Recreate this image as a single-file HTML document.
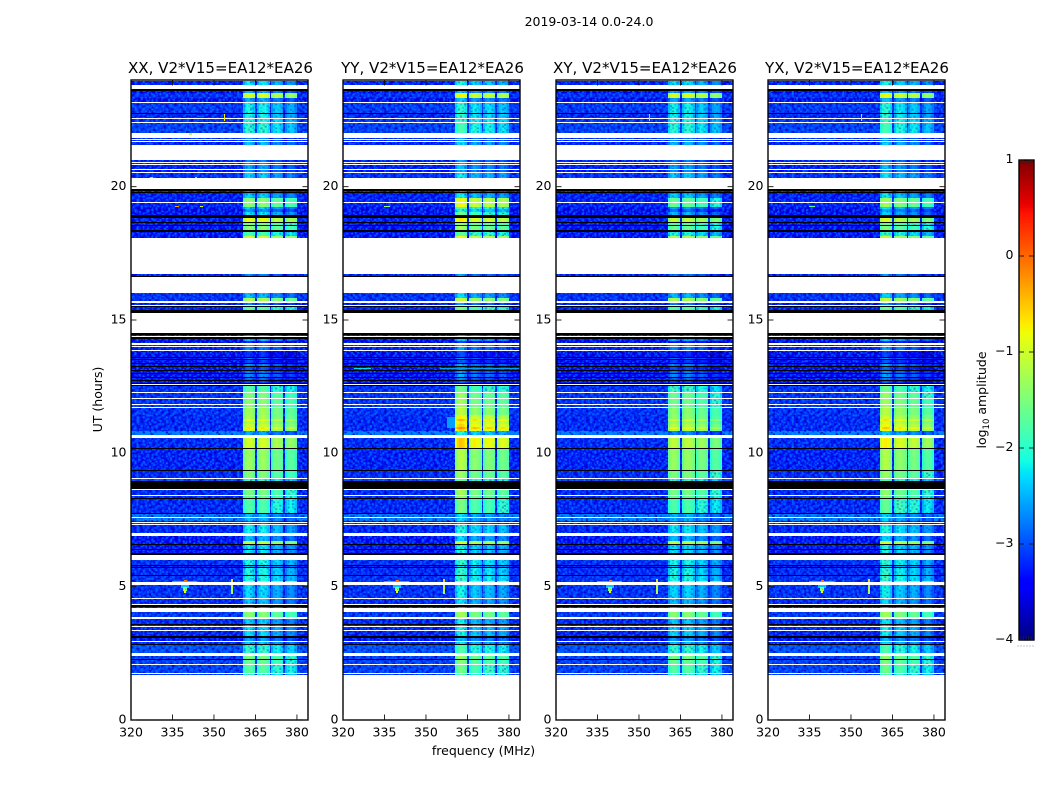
<!DOCTYPE html>
<html>
<head>
<meta charset="utf-8">
<title>2019-03-14 amplitude waterfall</title>
<style>
html,body{margin:0;padding:0;background:#fff;}
svg{display:block;}
text{font-family:"DejaVu Sans","Liberation Sans",sans-serif;fill:#000;}
</style>
</head>
<body>
<svg id="chart" width="1050" height="800" viewBox="0 0 1050 800" xmlns="http://www.w3.org/2000/svg">
  <defs id="defs"></defs>
  <rect x="0" y="0" width="1050" height="800" fill="#fff"></rect>
  <text x="589" y="26" font-size="12.5" text-anchor="middle">2019-03-14 0.0-24.0</text>
  <g id="panels"></g>
  <text x="220.5" y="73" font-size="15.05" text-anchor="middle">XX, V2*V15=EA12*EA26</text>
  <text x="432.5" y="73" font-size="15.05" text-anchor="middle">YY, V2*V15=EA12*EA26</text>
  <text x="645" y="73" font-size="15.05" text-anchor="middle">XY, V2*V15=EA12*EA26</text>
  <text x="857" y="73" font-size="15.05" text-anchor="middle">YX, V2*V15=EA12*EA26</text>
  <text x="483.5" y="755" font-size="12.5" text-anchor="middle">frequency (MHz)</text>
  <text transform="translate(102,399.5) rotate(-90)" font-size="12.5" text-anchor="middle">UT (hours)</text>
  <text transform="translate(986,400) rotate(-90)" font-size="12.5" text-anchor="middle">log<tspan font-size="8.5" dy="3">10</tspan><tspan dy="-3"> amplitude</tspan></text>
  <g id="colorbar"></g>
</svg>
<script>
// ---- Axis tick values ----
const xTicks = [320, 335, 350, 365, 380];
const yTicks = [0, 5, 10, 15, 20];
const cbTicks = [-4, -3, -2, -1, 0, 1];

// ---- Domains ----
const freqDomain = [320, 384];
const hourDomain = [0, 24];
const ampDomain = [-4, 1];

// ---- Spectral windows (MHz) ----
const windowLow = [360.65, 365.6, 370.7, 375.75];
const windowHigh = [364.9, 370.1, 375.1, 380.1];
// level offset across each window, low to high frequency
const windowProfile = [-0.25, -0.02, 0.08, 0.08, 0.02, -0.06, -0.2];

// ---- Flag levels ----
const W = null;   // flagged: blank
const K = -99;    // zero amplitude: black

// ---- Time bands: [hour top, hour bottom, background log10 amp, window log10 amp] ----
const bands = [
  [23.96,23.82,-3.3,-2.3],[23.82,23.65,W,W],[23.65,23.58,K,K],[23.58,23.53,-3.4,-2.6],
  [23.53,23.34,-3.2,-1.0],[23.34,23.31,K,K],[23.31,23.19,-3.5,-2.6],[23.19,23.15,W,W],
  [23.15,22.75,-3.15,-2.2],[22.75,22.73,K,K],[22.73,22.56,-3.25,-2.2],[22.56,22.53,W,W],
  [22.53,22.44,-3.2,-2.1],[22.44,22.40,W,W],[22.40,22.00,-3.1,-2.05],[22.00,21.81,W,W],
  [21.81,21.78,-3.2,-2.8],[21.78,21.75,W,W],[21.75,21.71,-3.2,-2.8],[21.71,21.68,W,W],
  [21.68,21.56,-3.3,-2.5],[21.56,21.00,W,W],[21.00,20.94,-3.3,-2.8],[20.94,20.90,W,W],
  [20.90,20.85,-3.3,-2.8],[20.85,20.81,W,W],[20.81,20.65,-3.3,-2.6],[20.65,20.61,W,W],
  [20.61,20.54,-3.35,-2.7],[20.54,20.50,W,W],[20.50,20.31,-3.2,-2.4],[20.31,19.90,W,W],
  [19.90,19.85,K,K],[19.85,19.81,-3.4,-2.9],[19.81,19.77,K,K],[19.77,19.73,-3.5,-2.6],
  [19.73,19.56,-3.3,-2.4],[19.56,19.41,-3.3,-1.5],[19.41,19.39,W,W],[19.39,19.25,-3.3,-1.5],
  [19.25,19.15,-3.45,-2.4],[19.15,19.05,-3.6,-2.7],[19.05,18.94,-3.4,-2.3],[18.94,18.91,K,K],
  [18.91,18.89,W,W],[18.89,18.84,K,K],[18.84,18.69,-3.3,-0.95],[18.69,18.65,K,K],
  [18.65,18.56,-3.5,-1.6],[18.56,18.53,K,K],[18.53,18.38,-3.4,-1.5],[18.38,18.31,K,K],
  [18.31,18.16,-3.35,-1.9],[18.16,18.06,-3.5,-1.1],[18.06,16.73,W,W],
  [16.73,16.66,-3.3,-2.8],[16.66,16.60,K,K],[16.60,16.55,W,W],[16.55,16.53,K,K],[16.53,16.02,W,W],
  [16.02,15.81,-3.2,-2.5],[15.81,15.70,-3.2,-1.3],[15.70,15.63,W,W],[15.63,15.57,-3.3,-2.8],
  [15.57,15.53,W,W],[15.53,15.48,K,K],[15.48,15.38,-3.3,-1.8],[15.38,15.27,K,K],[15.27,14.52,W,W],
  [14.52,14.45,K,K],[14.45,14.40,-3.4,-2.5],[14.40,14.36,W,W],[14.36,14.29,K,K],[14.29,14.21,-3.4,-2.2],
  [14.21,14.13,-3.7,-3.0],[14.13,14.07,W,W],[14.07,14.03,-3.3,-2.3],[14.03,13.98,W,W],[13.98,13.88,-3.3,-2.4],
  [13.88,13.83,W,W],[13.83,13.63,-3.5,-2.9],[13.63,13.59,K,K],[13.59,13.52,-3.4,-2.5],[13.52,13.49,K,K],
  [13.49,13.40,-3.45,-2.8],[13.40,13.36,K,K],[13.36,13.27,-3.45,-2.4],[13.27,13.23,K,K],[13.23,13.13,-3.45,-2.7],
  [13.13,13.09,K,K],[13.09,13.00,-3.45,-2.5],[13.00,12.96,K,K],[12.96,12.87,-3.45,-2.4],[12.87,12.83,K,K],
  [12.83,12.74,-3.45,-2.6],[12.74,12.70,K,K],[12.70,12.63,-3.5,-2.8],[12.63,12.60,K,K],[12.60,12.56,W,W],
  [12.56,12.54,K,K],[12.54,12.30,-3.2,-1.8],[12.30,12.26,W,W],[12.26,12.09,-3.2,-1.55],[12.09,12.05,W,W],
  [12.05,11.85,-3.2,-1.5],[11.85,11.80,W,W],[11.80,11.75,-3.15,-1.5],[11.75,11.70,W,W],[11.70,11.44,-3.2,-1.35],
  [11.44,11.30,-3.25,-1.3],[11.30,11.20,-3.25,-0.95],[11.20,11.10,-3.25,-1.25],[11.10,11.00,-3.25,-1.1],[11.00,10.93,-3.25,-0.8],[10.93,10.85,-3.25,-1.1],
  [10.85,10.83,K,K],[10.83,10.70,-2.75,-2.6],[10.70,10.58,W,W],[10.58,10.19,-3.25,-1.05],
  [10.19,10.16,K,K],[10.16,9.38,-3.3,-1.4],[9.38,9.34,K,K],[9.34,9.08,-3.25,-1.55],[9.08,9.03,W,W],
  [9.03,8.95,-3.0,-2.0],[8.95,8.65,K,K],[8.65,8.61,W,W],[8.61,8.43,-3.25,-1.6],[8.43,8.39,W,W],
  [8.39,8.31,-3.25,-1.7],[8.31,8.29,K,K],[8.29,7.77,-3.25,-1.85],[7.77,7.73,K,K],[7.73,7.63,-2.75,-2.5],
  [7.63,7.59,W,W],[7.59,7.46,-2.7,-2.5],[7.46,7.43,-3.5,-3.0],[7.43,7.38,W,W],[7.38,7.35,-3.2,-3.0],
  [7.35,7.30,W,W],[7.30,7.02,-3.25,-2.25],[7.02,6.91,W,W],[6.91,6.73,-3.45,-2.5],[6.73,6.60,-3.4,-1.15],
  [6.60,6.56,K,K],[6.56,6.41,-3.4,-2.3],[6.41,6.38,K,K],[6.38,6.26,-3.4,-2.3],[6.26,6.19,K,K],
  [6.19,6.00,W,W],[6.00,5.81,-3.2,-2.15],[5.81,5.77,K,K],[5.77,5.72,-3.4,-2.5],[5.72,5.70,K,K],[5.70,5.44,-3.25,-2.15],[5.44,5.40,K,K],
  [5.40,5.22,-3.2,-2.1],[5.22,5.16,-3.2,-1.05],[5.16,5.05,W,W],[5.05,4.56,-3.2,-2.2],[4.56,4.52,W,W],
  [4.52,4.35,-3.25,-2.3],[4.35,4.31,W,W],[4.31,4.24,K,K],[4.24,4.21,-3.3,-2.6],[4.21,4.06,W,W],
  [4.06,3.87,-3.15,-1.35],[3.87,3.78,W,W],[3.78,3.60,-3.25,-2.25],[3.60,3.56,K,K],[3.56,3.53,-3.3,-2.6],
  [3.53,3.49,W,W],[3.49,3.38,-3.25,-2.2],[3.38,3.33,W,W],[3.33,3.16,-3.3,-2.2],[3.16,3.06,K,K],
  [3.06,2.97,-3.35,-2.5],[2.97,2.94,W,W],[2.94,2.85,-3.25,-2.3],[2.85,2.81,K,K],[2.81,2.52,-3.0,-2.0],
  [2.52,2.40,W,W],[2.40,2.29,-3.1,-1.6],[2.29,2.25,K,K],[2.25,2.09,-3.1,-1.7],[2.09,2.05,W,W],
  [2.05,1.77,-3.1,-1.8],[1.77,1.73,W,W],[1.73,1.68,-3.2,-2.0]
];

// ---- Window gain per panel (XX, YY, XY, YX), per spectral window ----
const gainXX = [0.05, 0.05, -0.2, -0.35];
const gainYY = [0.2, -0.05, -0.1, -0.2];
const gainXY = [0.0, 0.0, -0.2, -0.4];
const gainYX = [0.15, -0.05, -0.2, -0.4];

// ---- Time-dependent gain: [panel or -1 for all, hour low, hour high, delta] ----
const regionGain = [
  [-1, 12.63, 14.52, -0.35], [-1, 2.81, 5.05, -0.15],
  [1, 10.0, 11.5, 0.3], [1, 18.9, 19.6, 0.45], [1, 7.7, 9.0, 0.1],
  [2, 10.0, 12.6, -0.12], [2, 18.0, 19.6, -0.2],
  [3, 10.0, 11.5, 0.1], [3, 18.0, 19.0, -0.2]
];

// ---- Localised interference: [panel or -1 for all, MHz low, MHz high, hour low, hour high, level] ----
const rfi = [
  [-1, 338.0, 341.0, 4.95, 5.05, -2.4], [-1, 338.7, 340.4, 4.85, 4.97, -1.6], [-1, 339.3, 339.9, 4.78, 4.90, -0.8],
  [-1, 339.4, 339.9, 4.86, 4.92, -0.3], [-1, 339.2, 340.1, 5.16, 5.24, -0.1], [-1, 335.0, 344.0, 5.16, 5.21, -2.4],
  [-1, 356.0, 356.9, 4.72, 5.05, -1.2], [-1, 356.0, 356.9, 5.16, 5.30, -0.6], [0, 353.5, 354.0, 22.45, 22.72, -0.7],
  [2, 353.5, 354.0, 22.45, 22.72, -1.6], [3, 353.5, 354.0, 22.45, 22.72, -1.6], [0, 336.0, 337.2, 19.22, 19.27, -0.3],
  [0, 345.0, 346.0, 19.22, 19.27, -0.9], [3, 335.0, 337.0, 19.22, 19.27, -1.7], [1, 335.0, 337.0, 19.22, 19.27, -1.4],
  [1, 324.0, 330.0, 13.16, 13.20, -2.3], [1, 355.0, 384.0, 13.16, 13.20, -2.6], [1, 357.5, 360.4, 10.95, 11.35, -2.6],
  [0, 341.0, 342.0, 21.95, 22.03, -1.2], [0, 327.0, 328.0, 20.33, 20.38, -1.9], [0, 343.0, 344.0, 20.33, 20.38, -1.7]
];

// ---- Fine-grain residual tile: . none, a/c brighter, b darker ----
const grainTile = [
  "a.b..c.a..b.a...c.b.a..b",
  ".c..a...b.a..c.b...a.c..",
  "b..a.b.c...a...b.a...b.a",
  "..c...a.b.c..b..c.a.c...",
  "a..b.c...a.b...a..b...ca",
  ".b.a...c...c.a.b.c..a...",
  "..a.b.a..b...c...a.b..c.",
  "c...c..a..b.a..b.c...a.b",
  ".a.b...c.a...c...a.b....",
  "b..c.a..b..c.b.a...c.a.c",
  "..a...b.c.a...c..b.a...b",
  "a.c.b...a..b.a..c...b.c.",
  ".b...a.c..c...b.a.c...a.",
  "c..a.b...a.b.c...b..a..b",
  ".a...c.b.c...a.c..a.b.c.",
  "b.c.a...b..a..b.a...c..a"
];

// ---- Jet colour map knots ----
const jetRedX = [0, 0.35, 0.66, 0.89, 1];
const jetRedY = [0, 0, 1, 1, 0.5];
const jetGreenX = [0, 0.125, 0.375, 0.64, 0.91, 1];
const jetGreenY = [0, 0, 1, 1, 0, 0];
const jetBlueX = [0, 0.11, 0.34, 0.65, 1];
const jetBlueY = [0.5, 1, 1, 0, 0];

// ---- Layout ----
const PANEL_COUNT = 4;
const AX_LEFT = 131, AX_STEP = 212.33, AX_W = 177;
const AX_TOP = 80, AX_BOTTOM = 720;
const CB_L = 1019, CB_R = 1034, CB_T = 160, CB_B = 640;
const SVGNS = "http://www.w3.org/2000/svg";
const panelGains = [gainXX, gainYY, gainXY, gainYX];

function mk(tag, attrs) {
  const el = document.createElementNS(SVGNS, tag);
  for (const k in attrs) el.setAttribute(k, attrs[k]);
  return el;
}
function panelLeft(panel) {
  return Math.round(AX_LEFT + panel * AX_STEP);
}
function xScale(panel, f) {
  return panelLeft(panel) + (f - freqDomain[0]) / (freqDomain[1] - freqDomain[0]) * AX_W;
}
function yScale(h) {
  return AX_BOTTOM - (h - hourDomain[0]) / (hourDomain[1] - hourDomain[0]) * (AX_BOTTOM - AX_TOP);
}
function cbScale(v) {
  return CB_B - (v - ampDomain[0]) / (ampDomain[1] - ampDomain[0]) * (CB_B - CB_T);
}
function interp(xs, ys, t) {
  for (let i = 1; i < xs.length; i++) {
    if (t <= xs[i]) return ys[i - 1] + (ys[i] - ys[i - 1]) * (t - xs[i - 1]) / (xs[i] - xs[i - 1]);
  }
  return ys[ys.length - 1];
}
function levelColor(v) {
  if (v === null) return "#ffffff";
  if (v <= -99) return "#000000";
  const t = Math.min(1, Math.max(0, (v - ampDomain[0]) / (ampDomain[1] - ampDomain[0])));
  const r = Math.round(255 * interp(jetRedX, jetRedY, t));
  const g = Math.round(255 * interp(jetGreenX, jetGreenY, t));
  const b = Math.round(255 * interp(jetBlueX, jetBlueY, t));
  return "rgb(" + r + "," + g + "," + b + ")";
}
function gainAt(panel, hi, lo) {
  let d = 0;
  const mid = (hi + lo) / 2;
  for (const r of regionGain) {
    if ((r[0] === panel || r[0] === -1) && mid >= r[1] && mid <= r[2]) d += r[3];
  }
  return d;
}

// grain patterns: two tile sizes overlaid so the texture does not visibly repeat
const defs = document.getElementById("defs");
function addGrain(id, cw, ch) {
  const pattern = mk("pattern", {id: id, patternUnits: "userSpaceOnUse", width: grainTile[0].length * cw, height: grainTile.length * ch});
  grainTile.forEach(function (row, j) {
    row.split("").forEach(function (c, i) {
      if (c === ".") return;
      const fill = c === "a" ? "#0068ff" : c === "c" ? "#0098ff" : "#0000b0";
      const op = c === "c" ? 0.55 : 0.8;
      pattern.appendChild(mk("rect", {x: i * cw, y: j * ch, width: cw, height: ch, fill: fill, "fill-opacity": op}));
    });
  });
  defs.appendChild(pattern);
}
addGrain("grain", 2.1, 1.7);
addGrain("grain2", 1.55, 2.3);

function crispRect(parent, x0, x1, y0, y1, attrs) {
  const ya = Math.round(y0), yb = Math.max(ya + 1, Math.round(y1));
  const xa = Math.round(x0), xb = Math.max(xa + 1, Math.round(x1));
  const r = mk("rect", Object.assign({x: xa, y: ya, width: xb - xa, height: yb - ya, "shape-rendering": "crispEdges"}, attrs));
  parent.appendChild(r);
  return r;
}

const panelsG = document.getElementById("panels");
for (let p = 0; p < PANEL_COUNT; p++) {
  const g = mk("g", {});
  
  
  panelsG.appendChild(g);

  const xL = xScale(p, freqDomain[0]), xR = xScale(p, freqDomain[1]);

  bands.forEach(function (b) {
    const y0 = yScale(b[0]), y1 = yScale(b[1]);
    const bg = b[2], win = b[3];
    const base = crispRect(g, xL, xR, y0, y1, {fill: levelColor(bg)});
    
    
    if (bg === null || bg <= -99) return;
    crispRect(g, xL, xR, y0, y1, {fill: "url(#grain)"});
    crispRect(g, xL, xR, y0, y1, {fill: "url(#grain2)", opacity: 0.6});
    for (let k = 0; k < windowLow.length; k++) {
      const v = win + panelGains[p][k] + gainAt(p, b[0], b[1]);
      const span = (windowHigh[k] - windowLow[k]) / windowProfile.length;
      for (let s = 0; s < windowProfile.length; s++) {
        const f0 = windowLow[k] + s * span;
        const cell = crispRect(g, xScale(p, f0), xScale(p, f0 + span), y0, y1, {fill: levelColor(v + windowProfile[s])});
        
        
      }
      if (v < -1.9) {
        crispRect(g, xScale(p, windowLow[k]), xScale(p, windowHigh[k]), y0, y1, {fill: "url(#grain)", opacity: 0.45});
      }
    }
  });

  rfi.forEach(function (s) {
    if (s[0] !== -1 && s[0] !== p) return;
    const m = crispRect(g, xScale(p, s[1]), xScale(p, s[2]), yScale(s[4]), yScale(s[3]), {fill: levelColor(s[5])});
    
    
  });

  // frame
  const frame = mk("rect", {x: xL, y: AX_TOP, width: xR - xL, height: AX_BOTTOM - AX_TOP, fill: "none", stroke: "#000", "stroke-width": 1.39});
  
  
  g.appendChild(frame);

  // x ticks
  xTicks.forEach(function (t) {
    const x = xScale(p, t);
    const tb = mk("line", {x1: x, x2: x, y1: AX_BOTTOM, y2: AX_BOTTOM - 5.5, stroke: "#111", "stroke-width": 0.9});
    
    
    g.appendChild(tb);
    const tt = mk("line", {x1: x, x2: x, y1: AX_TOP, y2: AX_TOP + 5.5, stroke: "#111", "stroke-width": 0.9});
    
    
    g.appendChild(tt);
    const lab = mk("text", {x: x, y: 736.5, "font-size": 12.5, "text-anchor": "middle"});
    
    
    lab.textContent = String(t);
    g.appendChild(lab);
  });

  // y ticks
  yTicks.forEach(function (t) {
    const y = yScale(t);
    const tl = mk("line", {x1: xL, x2: xL + 5.5, y1: y, y2: y, stroke: "#111", "stroke-width": 0.9});
    
    
    g.appendChild(tl);
    const tr = mk("line", {x1: xR, x2: xR - 5.5, y1: y, y2: y, stroke: "#111", "stroke-width": 0.9});
    
    
    g.appendChild(tr);
    const lab = mk("text", {x: xL - 4.5, y: y + 3.3, "font-size": 12.5, "text-anchor": "end"});
    
    
    lab.textContent = String(t);
    g.appendChild(lab);
  });
}

// colour bar
const cbG = document.getElementById("colorbar");
for (let i = 0; i < 256; i++) {
  const v0 = ampDomain[0] + (ampDomain[1] - ampDomain[0]) * i / 256;
  const v1 = ampDomain[0] + (ampDomain[1] - ampDomain[0]) * (i + 1) / 256;
  const seg = mk("rect", {x: CB_L, y: cbScale(v1), width: CB_R - CB_L, height: cbScale(v0) - cbScale(v1) + 0.6, fill: levelColor((v0 + v1) / 2)});
  
  
  cbG.appendChild(seg);
}
const cbFrame = mk("rect", {x: CB_L, y: CB_T, width: CB_R - CB_L, height: CB_B - CB_T, fill: "none", stroke: "#000", "stroke-width": 1.39});


cbG.appendChild(cbFrame);
cbTicks.forEach(function (t) {
  const y = cbScale(t);
  const l = mk("line", {x1: CB_L, x2: CB_L + 5, y1: y, y2: y, stroke: "#111", "stroke-width": 0.9});
  
  
  cbG.appendChild(l);
  const r = mk("line", {x1: CB_R, x2: CB_R - 5, y1: y, y2: y, stroke: "#111", "stroke-width": 0.9});
  
  
  cbG.appendChild(r);
  const lab = mk("text", {x: 1013.5, y: y + 3.2, "font-size": 12.5, "text-anchor": "end"});
  
  
  lab.textContent = (t < 0 ? "\u2212" + Math.abs(t) : String(t));
  cbG.appendChild(lab);
});
[CB_T, CB_B].forEach(function (edge, idx) {
  const dir = idx === 0 ? 1 : -1;
  for (let x = CB_L + 2; x < CB_R - 1; x += 2.5) {
    const m = mk("line", {x1: x, x2: x, y1: edge, y2: edge + dir * 4, stroke: "#222", "stroke-width": 0.7});
    
    
    cbG.appendChild(m);
  }
});
const dots = mk("line", {x1: 1017.5, x2: 1034, y1: 646, y2: 646, stroke: "#888", "stroke-width": 1, "stroke-dasharray": "1 2"});


cbG.appendChild(dots);
</script>
</body>
</html>
